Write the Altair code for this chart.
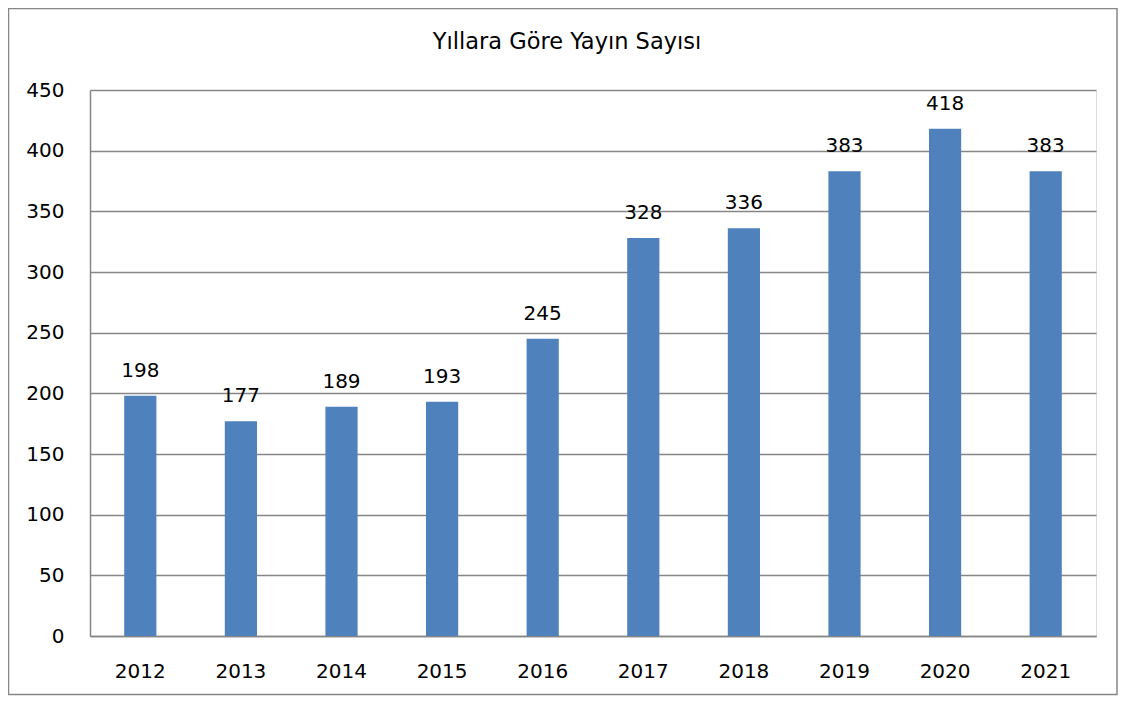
import altair as alt
import pandas as pd

years = ["2012", "2013", "2014", "2015", "2016", "2017", "2018", "2019", "2020", "2021"]
counts = [198, 177, 189, 193, 245, 328, 336, 383, 418, 383]
title_text = "Yıllara Göre Yayın Sayısı"
y_ticks = [0, 50, 100, 150, 200, 250, 300, 350, 400, 450]

df = pd.DataFrame({"year": years, "count": counts})

FONT = "DejaVu Sans"
GRID = "#868686"
BAR = "#4F81BD"

x_enc = alt.X("year:N", sort=years, title=None,
              scale=alt.Scale(paddingInner=0.68, paddingOuter=0.34),
              axis=alt.Axis(labelAngle=0, labelFontSize=20, labelFont=FONT, labelColor="#000000",
                            labelPadding=25, ticks=False, domainColor=GRID, domainWidth=1.5))
y_enc = alt.Y("count:Q", title=None,
              scale=alt.Scale(domain=[0, 450], nice=False),
              axis=alt.Axis(values=y_ticks, labelFontSize=20, labelFont=FONT, labelColor="#000000",
                            labelPadding=26, ticks=False, domainColor=GRID, domainWidth=1.5,
                            gridColor=GRID, gridWidth=1.5))

base = alt.Chart(df)
bars = base.mark_bar(color=BAR).encode(x=x_enc, y=y_enc)
labels = base.mark_text(fontSize=20, font=FONT, color="#000000", baseline="alphabetic", dy=-19).encode(
    x=alt.X("year:N", sort=years), y=alt.Y("count:Q"), text=alt.Text("count:Q"))

single = alt.Chart(alt.Data(values=[{"t": title_text}]))
title = single.mark_text(fontSize=22.5, font=FONT, color="#000000", baseline="middle", align="center").encode(
    x=alt.value(477), y=alt.value(-48), text="t:N")
border = single.mark_rect(fill=None, stroke=GRID, strokeWidth=1.5).encode(
    x=alt.value(-81.5), x2=alt.value(1027), y=alt.value(-81.5), y2=alt.value(604.5))

chart = alt.layer(bars, labels, title, border).properties(
    width=1006, height=546,
    autosize=alt.AutoSizeParams(type="none"),
    padding={"left": 82, "top": 82, "right": 22, "bottom": 60},
).configure_view(stroke=None).configure(background="#ffffff")

chart.save("out.html", embed_options={"renderer": "svg", "actions": False})
